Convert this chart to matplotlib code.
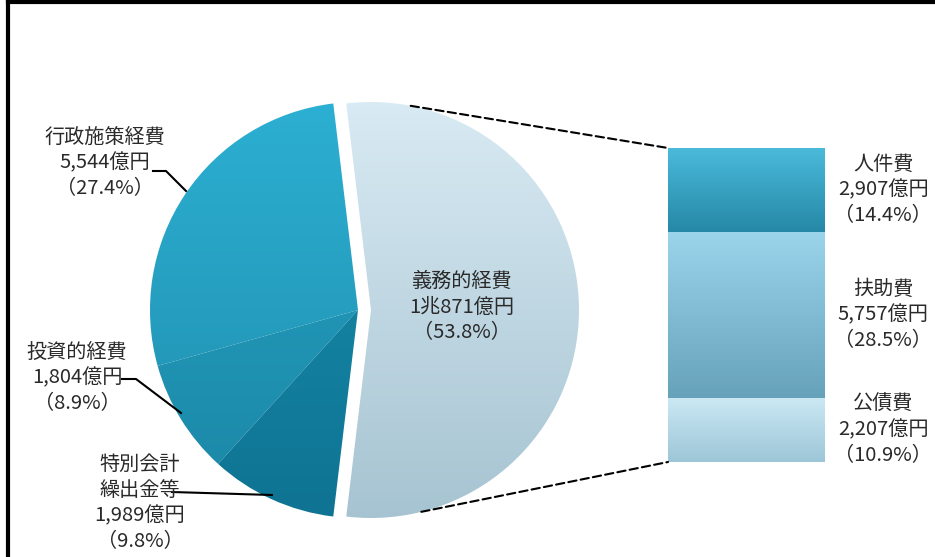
import matplotlib.pyplot as plt
import numpy as np
from matplotlib.patches import ConnectionPatch
from matplotlib.colors import LinearSegmentedColormap

plt.rcParams['font.family'] = ['Noto Sans CJK JP', 'DejaVu Sans']

# 歳出の内訳 (億円)
pie_names = ['義務的経費', '行政施策経費', '投資的経費', '特別会計\n繰出金等']
pie_amounts = [10871, 5544, 1804, 1989]
pie_amount_text = ['1兆871億円', '5,544億円', '1,804億円', '1,989億円']
pie_pct = [53.8, 27.4, 8.9, 9.8]

# 義務的経費の内訳 (bottom to top)
bar_names = ['公債費', '扶助費', '人件費']
bar_amounts = [2207, 5757, 2907]
bar_amount_text = ['2,207億円', '5,757億円', '2,907億円']
bar_pct = [10.9, 28.5, 14.4]

pie_top = [('#d9ebf4', '#a6c3d1'), ('#2cb0d3', '#1f8cab'),
           ('#26a2c4', '#1b87a6'), ('#1890b0', '#0f7393')]
bar_top = [('#cbe8f4', '#9cc6d7'), ('#9ad5ec', '#66a2ba'), ('#4bbadb', '#2588a6')]

W, H = 935, 557
fig = plt.figure(figsize=(W / 100, H / 100), dpi=100)
ax = fig.add_axes([0, 0, 1, 1])

cx, cy, r = 358, 247, 208
start = -360 * pie_amounts[0] / sum(pie_amounts) / 2
wedges, _ = ax.pie(pie_amounts, startangle=start, counterclock=True,
                   center=(cx, cy), radius=r, explode=[13, 0, 0, 0],
                   wedgeprops=dict(edgecolor='white', linewidth=1.2), frame=True)


def grad_fill(a, patch, c1, c2, extent):
    cmap = LinearSegmentedColormap.from_list('g', [c2, c1])
    g = np.linspace(0, 1, 256).reshape(-1, 1)
    im = a.imshow(g, cmap=cmap, extent=extent, origin='lower', aspect='auto', zorder=patch.get_zorder() + 0.1)
    im.set_clip_path(patch)


for w, (c1, c2) in zip(wedges, pie_top):
    w.set_facecolor(c2)
    x0, y0 = w.center
    grad_fill(ax, w, c1, c2, [x0 - r - 5, x0 + r + 5, y0 - r - 5, y0 + r + 5])
ax.set_xlim(0, W)
ax.set_ylim(0, H)
ax.set_aspect('equal')
ax.axis('off')

# bar of the mandatory expenses
bx = fig.add_axes([668 / W, 95 / H, 157 / W, 314 / H])
bx.axis('off')
bottom = 0
for name, v, (c1, c2) in zip(bar_names, bar_amounts, bar_top):
    b = bx.bar(0, v, width=1, bottom=bottom, color=c2, edgecolor='white', linewidth=1.5)[0]
    grad_fill(bx, b, c1, c2, [-0.5, 0.5, bottom, bottom + v])
    bottom += v
bx.set_xlim(-0.5, 0.5)
bx.set_ylim(0, sum(bar_amounts))

# dashed connectors
lw = wedges[0]
for ang, yb in [(79, sum(bar_amounts)), (-76, 0)]:
    px = lw.center[0] + r * np.cos(np.radians(ang))
    py = lw.center[1] + r * np.sin(np.radians(ang))
    con = ConnectionPatch(xyA=(px, py), coordsA=ax.transData, xyB=(-0.5, yb), coordsB=bx.transData,
                          color='black', linestyle=(0, (4, 2)), linewidth=1.5)
    fig.add_artist(con)

fs = 14.5
tc = '#2a2a2a'
# labels of the pie
ax.text(462, H - 307, f'{pie_names[0]}\n{pie_amount_text[0]}\n（{pie_pct[0]}%）',
        ha='center', va='center', fontsize=fs, linespacing=1.3, color=tc)
pie_label_pos = [(105, H - 163), (77, H - 378), (140, H - 503)]
leaders = [[(153, H - 171), (166, H - 171), (186, H - 191)],
           [(122, H - 379), (136, H - 379), (181, H - 413)],
           [(172, H - 492), (272, H - 495)]]
for i in range(1, 4):
    tx, ty = pie_label_pos[i - 1]
    ax.text(tx, ty, f'{pie_names[i]}\n{pie_amount_text[i]}\n（{pie_pct[i]}%）',
            ha='center', va='center', fontsize=fs, linespacing=1.3, color=tc)
    xs, ys = zip(*leaders[i - 1])
    ax.plot(xs, ys, color='black', linewidth=1.5)

# labels of the bar
bottom = 0
for name, v, t, p in zip(bar_names, bar_amounts, bar_amount_text, bar_pct):
    bx.text(0.87, bottom + v / 2, f'{name}\n{t}\n（{p}%）', ha='center', va='center',
            fontsize=fs, linespacing=1.3, color=tc, clip_on=False)
    bottom += v

# frame (top and left only)
fig.add_artist(plt.Line2D([8 / W, 8 / W], [0, 1 - 2 / H], transform=fig.transFigure, color='black', linewidth=3))
fig.add_artist(plt.Line2D([8 / W, 1], [1 - 2 / H, 1 - 2 / H], transform=fig.transFigure, color='black', linewidth=3))

fig.savefig('out.png', dpi=100)
